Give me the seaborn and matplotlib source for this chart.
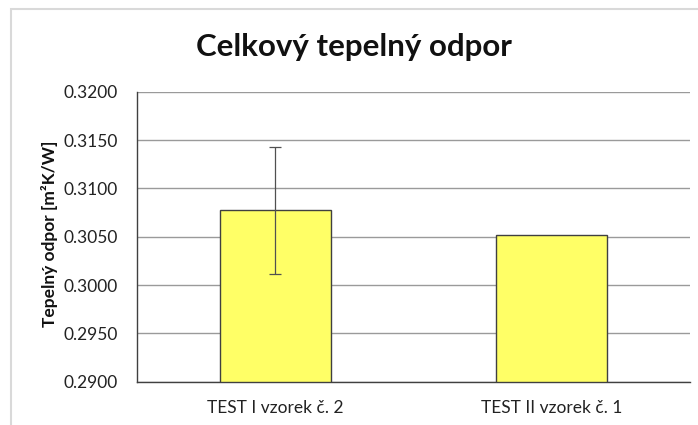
import matplotlib
matplotlib.use("Agg")
import matplotlib.pyplot as plt
import matplotlib.patches as mpatches
import seaborn as sns
import pandas as pd
import numpy as np

categories = ["TEST I vzorek č. 2", "TEST II vzorek č. 1"]
values = [0.30773, 0.30519]
errors = [0.00655, 0.0]
yticks = [0.2900, 0.2950, 0.3000, 0.3050, 0.3100, 0.3150, 0.3200]

sns.set_theme(style="white")
plt.rcParams['font.family'] = ['Lato', 'DejaVu Sans']

df = pd.DataFrame({"cat": categories, "val": values})

fig = plt.figure(figsize=(6.98, 4.25), dpi=100)
ax = fig.add_axes([137/698, (425-381.7)/425, 553/698, 290/425])

sns.barplot(data=df, x="cat", y="val", ax=ax, color="#FFFF66",
            edgecolor="#404040", linewidth=1.0, width=0.4, errorbar=None,
            saturation=1)
for p in ax.patches:
    p.set_facecolor("#FFFF66")

xs = np.arange(len(categories))
mask = np.array(errors) > 0
ax.errorbar(xs[mask], np.array(values)[mask], yerr=np.array(errors)[mask],
            fmt="none", ecolor="#505050", elinewidth=0.9, capsize=4.5,
            capthick=0.9, zorder=5)

ax.set_ylim(yticks[0], yticks[-1])
ax.set_xlim(-0.5, len(categories) - 0.5)
ax.set_yticks(yticks)
ax.set_yticklabels([f"{v:.4f}" for v in yticks])
ax.yaxis.grid(True, color="#9a9a9a", linewidth=1.0)
ax.set_axisbelow(True)
ax.tick_params(axis="y", length=0, labelsize=12.5, colors="#222222", pad=14)
ax.tick_params(axis="x", length=0, labelsize=12.5, colors="#222222", pad=13)
for s in ["top", "right"]:
    ax.spines[s].set_visible(False)
for s in ["left", "bottom"]:
    ax.spines[s].set_color("#404040")
    ax.spines[s].set_linewidth(1.0)
ax.set_xlabel("")
ax.set_ylabel("Tepelný odpor [m²K/W]", fontsize=12.5, fontweight="bold",
              color="#111111")
ax.yaxis.set_label_coords(-79/553, (381.7-234)/290)

fig.text(354/698, 1 - 47/425, "Celkový tepelný odpor", ha="center",
         va="center", fontsize=22.5, fontweight="bold", color="#111111")

rect = mpatches.Rectangle((11.5/698, -0.1), 1.2, (425-9.3)/425 + 0.1,
                          transform=fig.transFigure, fill=False,
                          edgecolor="#d9d9d9", linewidth=1.5)
fig.patches.append(rect)

fig.savefig("out.png", dpi=100)
